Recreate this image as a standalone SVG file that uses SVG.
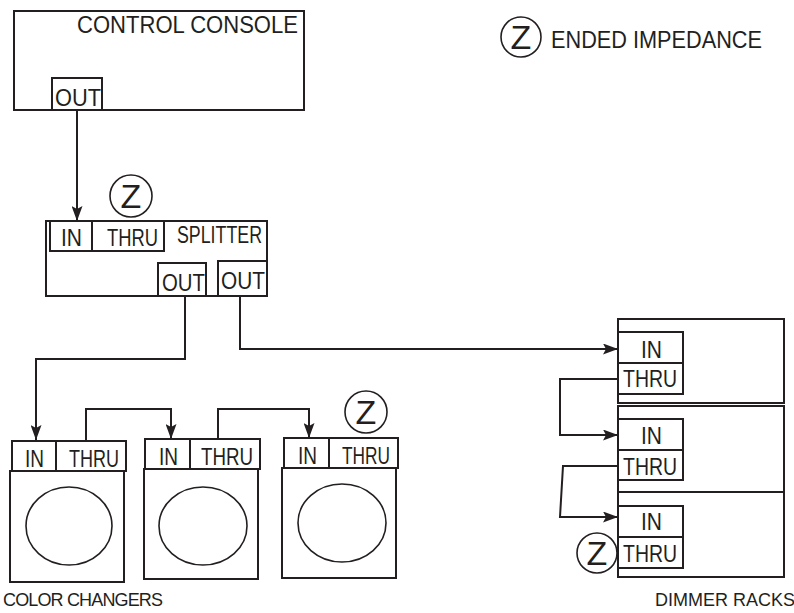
<svg xmlns="http://www.w3.org/2000/svg" width="794" height="613" viewBox="0 0 794 613">
<style>
.box{fill:none;stroke:#231f20;stroke-width:2}
.ln{fill:none;stroke:#231f20;stroke-width:2}
.t{font-family:"Liberation Sans",Arial,sans-serif;font-size:24px;fill:#231f20}
.lb{font-family:"Liberation Sans",Arial,sans-serif;font-size:18px;fill:#231f20}
.z{font-family:"Liberation Sans",Arial,sans-serif;font-size:34px;fill:#231f20;text-anchor:middle}
.zc{fill:none;stroke:#231f20;stroke-width:1.6}
</style>
<defs>
<marker id="ah" viewBox="0 0 15 11" refX="15" refY="5.5" markerWidth="15" markerHeight="11" markerUnits="userSpaceOnUse" orient="auto">
<path d="M0,0 L15,5.5 L0,11 L3,5.5 z" fill="#231f20"/>
</marker>
</defs>
<rect width="794" height="613" fill="#fff"/>

<g id="console">
<rect class="box" x="14" y="11" width="290" height="99"/>
<text class="t" x="77" y="33" textLength="221" lengthAdjust="spacingAndGlyphs">CONTROL CONSOLE</text>
<rect class="box" x="52" y="78" width="50" height="32"/>
<text class="t" x="55" y="106" textLength="46" lengthAdjust="spacingAndGlyphs">OUT</text>
</g>

<g id="legend">
<circle class="zc" cx="521" cy="37" r="20"/>
<text class="z" x="521" y="49">Z</text>
<text class="t" x="551" y="48" textLength="211" lengthAdjust="spacingAndGlyphs">ENDED IMPEDANCE</text>
</g>

<g id="splitter">
<rect class="box" x="46" y="221" width="221" height="75"/>
<rect class="box" x="50" y="221" width="42" height="30"/>
<rect class="box" x="92" y="221" width="72" height="30"/>
<text class="t" x="61" y="246" textLength="21" lengthAdjust="spacingAndGlyphs">IN</text>
<text class="t" x="107" y="246" textLength="51" lengthAdjust="spacingAndGlyphs">THRU</text>
<text class="t" x="177" y="243" textLength="85" lengthAdjust="spacingAndGlyphs">SPLITTER</text>
<rect class="box" x="158" y="263" width="48" height="33"/>
<text class="t" x="162" y="291" textLength="43" lengthAdjust="spacingAndGlyphs">OUT</text>
<rect class="box" x="218" y="261" width="49" height="35"/>
<text class="t" x="221" y="289" textLength="44" lengthAdjust="spacingAndGlyphs">OUT</text>
<circle class="zc" cx="131" cy="196" r="21"/>
<text class="z" x="131" y="208">Z</text>
</g>

<g id="color-changer-1">
<rect class="box" x="12" y="441" width="114" height="30"/>
<line class="ln" x1="56" y1="441" x2="56" y2="471"/>
<text class="t" x="25" y="467" textLength="19" lengthAdjust="spacingAndGlyphs">IN</text>
<text class="t" x="69" y="467" textLength="50" lengthAdjust="spacingAndGlyphs">THRU</text>
<rect class="box" x="10" y="471" width="114" height="111"/>
<ellipse class="zc" cx="69" cy="526" rx="43" ry="39"/>
</g>

<g id="color-changer-2">
<rect class="box" x="145" y="439" width="115" height="30"/>
<line class="ln" x1="190" y1="439" x2="190" y2="469"/>
<text class="t" x="159" y="465" textLength="19" lengthAdjust="spacingAndGlyphs">IN</text>
<text class="t" x="201" y="465" textLength="52" lengthAdjust="spacingAndGlyphs">THRU</text>
<rect class="box" x="144" y="469" width="114" height="110"/>
<ellipse class="zc" cx="203" cy="526" rx="44" ry="39"/>
</g>

<g id="color-changer-3">
<rect class="box" x="284" y="438" width="114" height="30"/>
<line class="ln" x1="329" y1="438" x2="329" y2="468"/>
<text class="t" x="298" y="464" textLength="19" lengthAdjust="spacingAndGlyphs">IN</text>
<text class="t" x="342" y="464" textLength="48" lengthAdjust="spacingAndGlyphs">THRU</text>
<rect class="box" x="282" y="468" width="114" height="110"/>
<ellipse class="zc" cx="342" cy="523" rx="44" ry="39"/>
<circle class="zc" cx="366" cy="412" r="21"/>
<text class="z" x="366" y="424">Z</text>
</g>

<g id="dimmer-rack-1">
<rect class="box" x="618" y="319" width="166" height="84"/>
<rect class="box" x="618" y="332" width="65" height="31"/>
<rect class="box" x="618" y="363" width="65" height="31"/>
<text class="t" x="641" y="358" textLength="21" lengthAdjust="spacingAndGlyphs">IN</text>
<text class="t" x="623" y="387" textLength="54" lengthAdjust="spacingAndGlyphs">THRU</text>
</g>

<g id="dimmer-rack-2">
<rect class="box" x="618" y="406" width="166" height="86"/>
<rect class="box" x="618" y="419" width="65" height="31"/>
<rect class="box" x="618" y="450" width="65" height="30"/>
<text class="t" x="641" y="444" textLength="21" lengthAdjust="spacingAndGlyphs">IN</text>
<text class="t" x="623" y="475" textLength="54" lengthAdjust="spacingAndGlyphs">THRU</text>
</g>

<g id="dimmer-rack-3">
<rect class="box" x="618" y="492" width="166" height="85"/>
<rect class="box" x="618" y="506" width="65" height="31"/>
<rect class="box" x="618" y="537" width="65" height="31"/>
<text class="t" x="641" y="530" textLength="21" lengthAdjust="spacingAndGlyphs">IN</text>
<text class="t" x="623" y="562" textLength="54" lengthAdjust="spacingAndGlyphs">THRU</text>
<circle class="zc" cx="597" cy="553" r="20"/>
<text class="z" x="597" y="565">Z</text>
</g>

<g id="labels">
<text class="lb" x="3" y="606" textLength="160">COLOR CHANGERS</text>
<text class="lb" x="655" y="606">DIMMER RACKS</text>
</g>

<g id="connectors">
<path class="ln" d="M77,110 V221" marker-end="url(#ah)"/>
<path class="ln" d="M185,296 V359 H36 V440" marker-end="url(#ah)"/>
<path class="ln" d="M240,296 V349 H618" marker-end="url(#ah)"/>
<path class="ln" d="M86,441 V409 H171 V439" marker-end="url(#ah)"/>
<path class="ln" d="M218,439 V409 H309 V438" marker-end="url(#ah)"/>
<path class="ln" d="M618,379 H560 V435 H618" marker-end="url(#ah)"/>
<path class="ln" d="M618,466 H563 L560,517 H618" marker-end="url(#ah)"/>
</g>
</svg>
